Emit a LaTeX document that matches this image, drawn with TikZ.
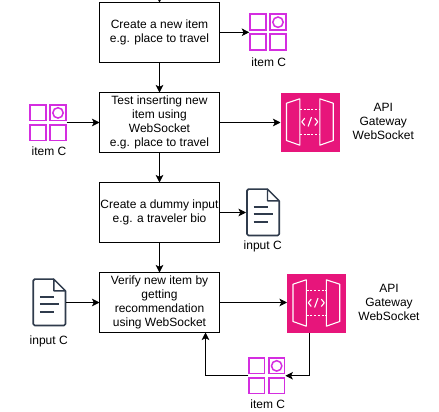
\documentclass[tikz,border=0pt]{standalone}
\usepackage{fontspec}
\setmainfont{Liberation Sans}
\usetikzlibrary{arrows.meta,calc}
\definecolor{itemc}{HTML}{D42EE0}
\definecolor{gwc}{HTML}{E7157B}
\definecolor{docc}{HTML}{2F3B4C}
\tikzset{
  x=1pt,y=-1pt,
  box/.style={draw=black,line width=0.9pt,minimum width=120pt,inner sep=0pt,outer sep=0pt,align=center,font=\fontsize{12}{14.2}\selectfont},
  lbl/.style={inner sep=0pt,align=center,font=\fontsize{12}{14}\selectfont},
  conn/.style={draw=black,line width=0.9pt,-{Stealth[length=7.5pt,width=7.5pt,inset=1.8pt]}},
  anchorbox/.style={minimum width=#1,minimum height=#1,inner sep=0pt,outer sep=0pt,anchor=north west},
  itemicon/.pic={
    \node[anchorbox=37.4pt] (-n) at (0,0) {};
    \begin{scope}[draw=itemc,line width=1.5pt]
      \draw (0.75,0.75) rectangle (16.65,16.65);
      \draw (20.75,0.75) rectangle (36.65,16.65);
      \draw (0.75,20.75) rectangle (16.65,36.65);
      \draw (20.75,20.75) rectangle (36.65,36.65);
      \draw (28.7,8.9) circle[radius=5.2pt];
    \end{scope}
  },
  docicon/.pic={
    \node[anchorbox=0pt,minimum width=34pt,minimum height=48pt] (-n) at (0,0) {};
    \begin{scope}[draw=docc,line width=1.7pt,line join=round]
      \draw[rounded corners=1.5pt] (21.5,0.8) -- (1,0.8) -- (1,47.2) -- (33.2,47.2) -- (33.2,12.5);
      \draw[line width=1.4pt] (21.5,0.8) -- (33.2,12.5) -- (21.5,12.5) -- cycle;
      \draw (7.5,18.5) -- (21.5,18.5);
      \draw (7.5,26) -- (26.5,26);
      \draw (7.5,34) -- (21.5,34);
    \end{scope}
  },
  gwicon/.pic={
    \node[anchorbox=59pt,fill=gwc] (-n) at (0,0) {};
    \begin{scope}[draw=white,line width=1.1pt,line join=round]
      \draw (6,10.7) -- (19.3,6.3) -- (19.3,52.7) -- (6,48) -- cycle;
      \draw (39.3,6.3) -- (52.7,10.7) -- (52.7,48) -- (39.3,52.7) -- cycle;
      \draw[dashed,dash pattern=on 2.2pt off 1.6pt] (19.3,17.3) -- (39.3,17.3);
      \draw[dashed,dash pattern=on 2.2pt off 1.6pt] (19.3,41.7) -- (39.3,41.7);
      \draw (24.3,25.6) -- (21.3,29.3) -- (24.3,33);
      \draw (27.6,34) -- (31,24.6);
      \draw (34.3,25.6) -- (37.3,29.3) -- (34.3,33);
    \end{scope}
  }
}
\begin{document}
\begin{tikzpicture}
\useasboundingbox[fill=white] (0,0) rectangle (439,412);

\node[box,minimum height=59.5pt] (b1) at (159.5,32.3) {Create a new item\\e.g. place to travel};
\node[box,minimum height=60pt] (b2) at (159.5,122.5) {Test inserting new\\item using\\WebSocket\\e.g. place to travel};
\node[box,minimum height=60pt] (b3) at (159.5,212.5) {Create a dummy input\\e.g. a traveler bio};
\node[box,minimum height=60pt] (b4) at (159.5,302.5) {Verify new item by\\getting\\recommendation\\using WebSocket};

\pic (i1) at (249.3,13.3) {itemicon};
\pic (i2) at (29.3,104) {itemicon};
\pic (i3) at (248,357) {itemicon};
\pic (d1) at (246,188.3) {docicon};
\pic (d2) at (32.3,278.3) {docicon};
\pic (g1) at (280.5,92.5) {gwicon};
\pic (g2) at (287,273.5) {gwicon};

\node[lbl] (t1) at (268.7,62) {item C};
\node[lbl] (t2) at (49,151.7) {item C};
\node[lbl] (t3) at (267.7,404.7) {item C};
\node[lbl] (t4) at (262.7,246.7) {input C};
\node[lbl] (t5) at (48.7,341) {input C};
\node[lbl] (t6) at (383.3,121.7) {API\\Gateway\\WebSocket};
\node[lbl] (t7) at (389,302.7) {API\\Gateway\\WebSocket};

\coordinate (top) at (159.5,-8);
\coordinate (g2out) at ($(g2-n.south west)+(22.5,0)$);
\coordinate (b4in) at ($(b4.south west)+(106,0)$);

\draw[conn] (top) -- (b1.north);
\draw[conn] (b1.east) -- (i1-n.west |- b1.east);
\draw[conn] (b1.south) -- (b2.north);
\draw[conn] (i2-n.east |- b2.west) -- (b2.west);
\draw[conn] (b2.east) -- (g1-n.west |- b2.east);
\draw[conn] (b2.south) -- (b3.north);
\draw[conn] (b3.east) -- (d1-n.west |- b3.east);
\draw[conn] (b3.south) -- (b4.north);
\draw[conn] (d2-n.east |- b4.west) -- (b4.west);
\draw[conn] (b4.east) -- (g2-n.west |- b4.east);
\draw[conn] (g2out) |- (i3-n.east);
\draw[conn] (i3-n.west) -| (b4in);
\end{tikzpicture}
\end{document}
